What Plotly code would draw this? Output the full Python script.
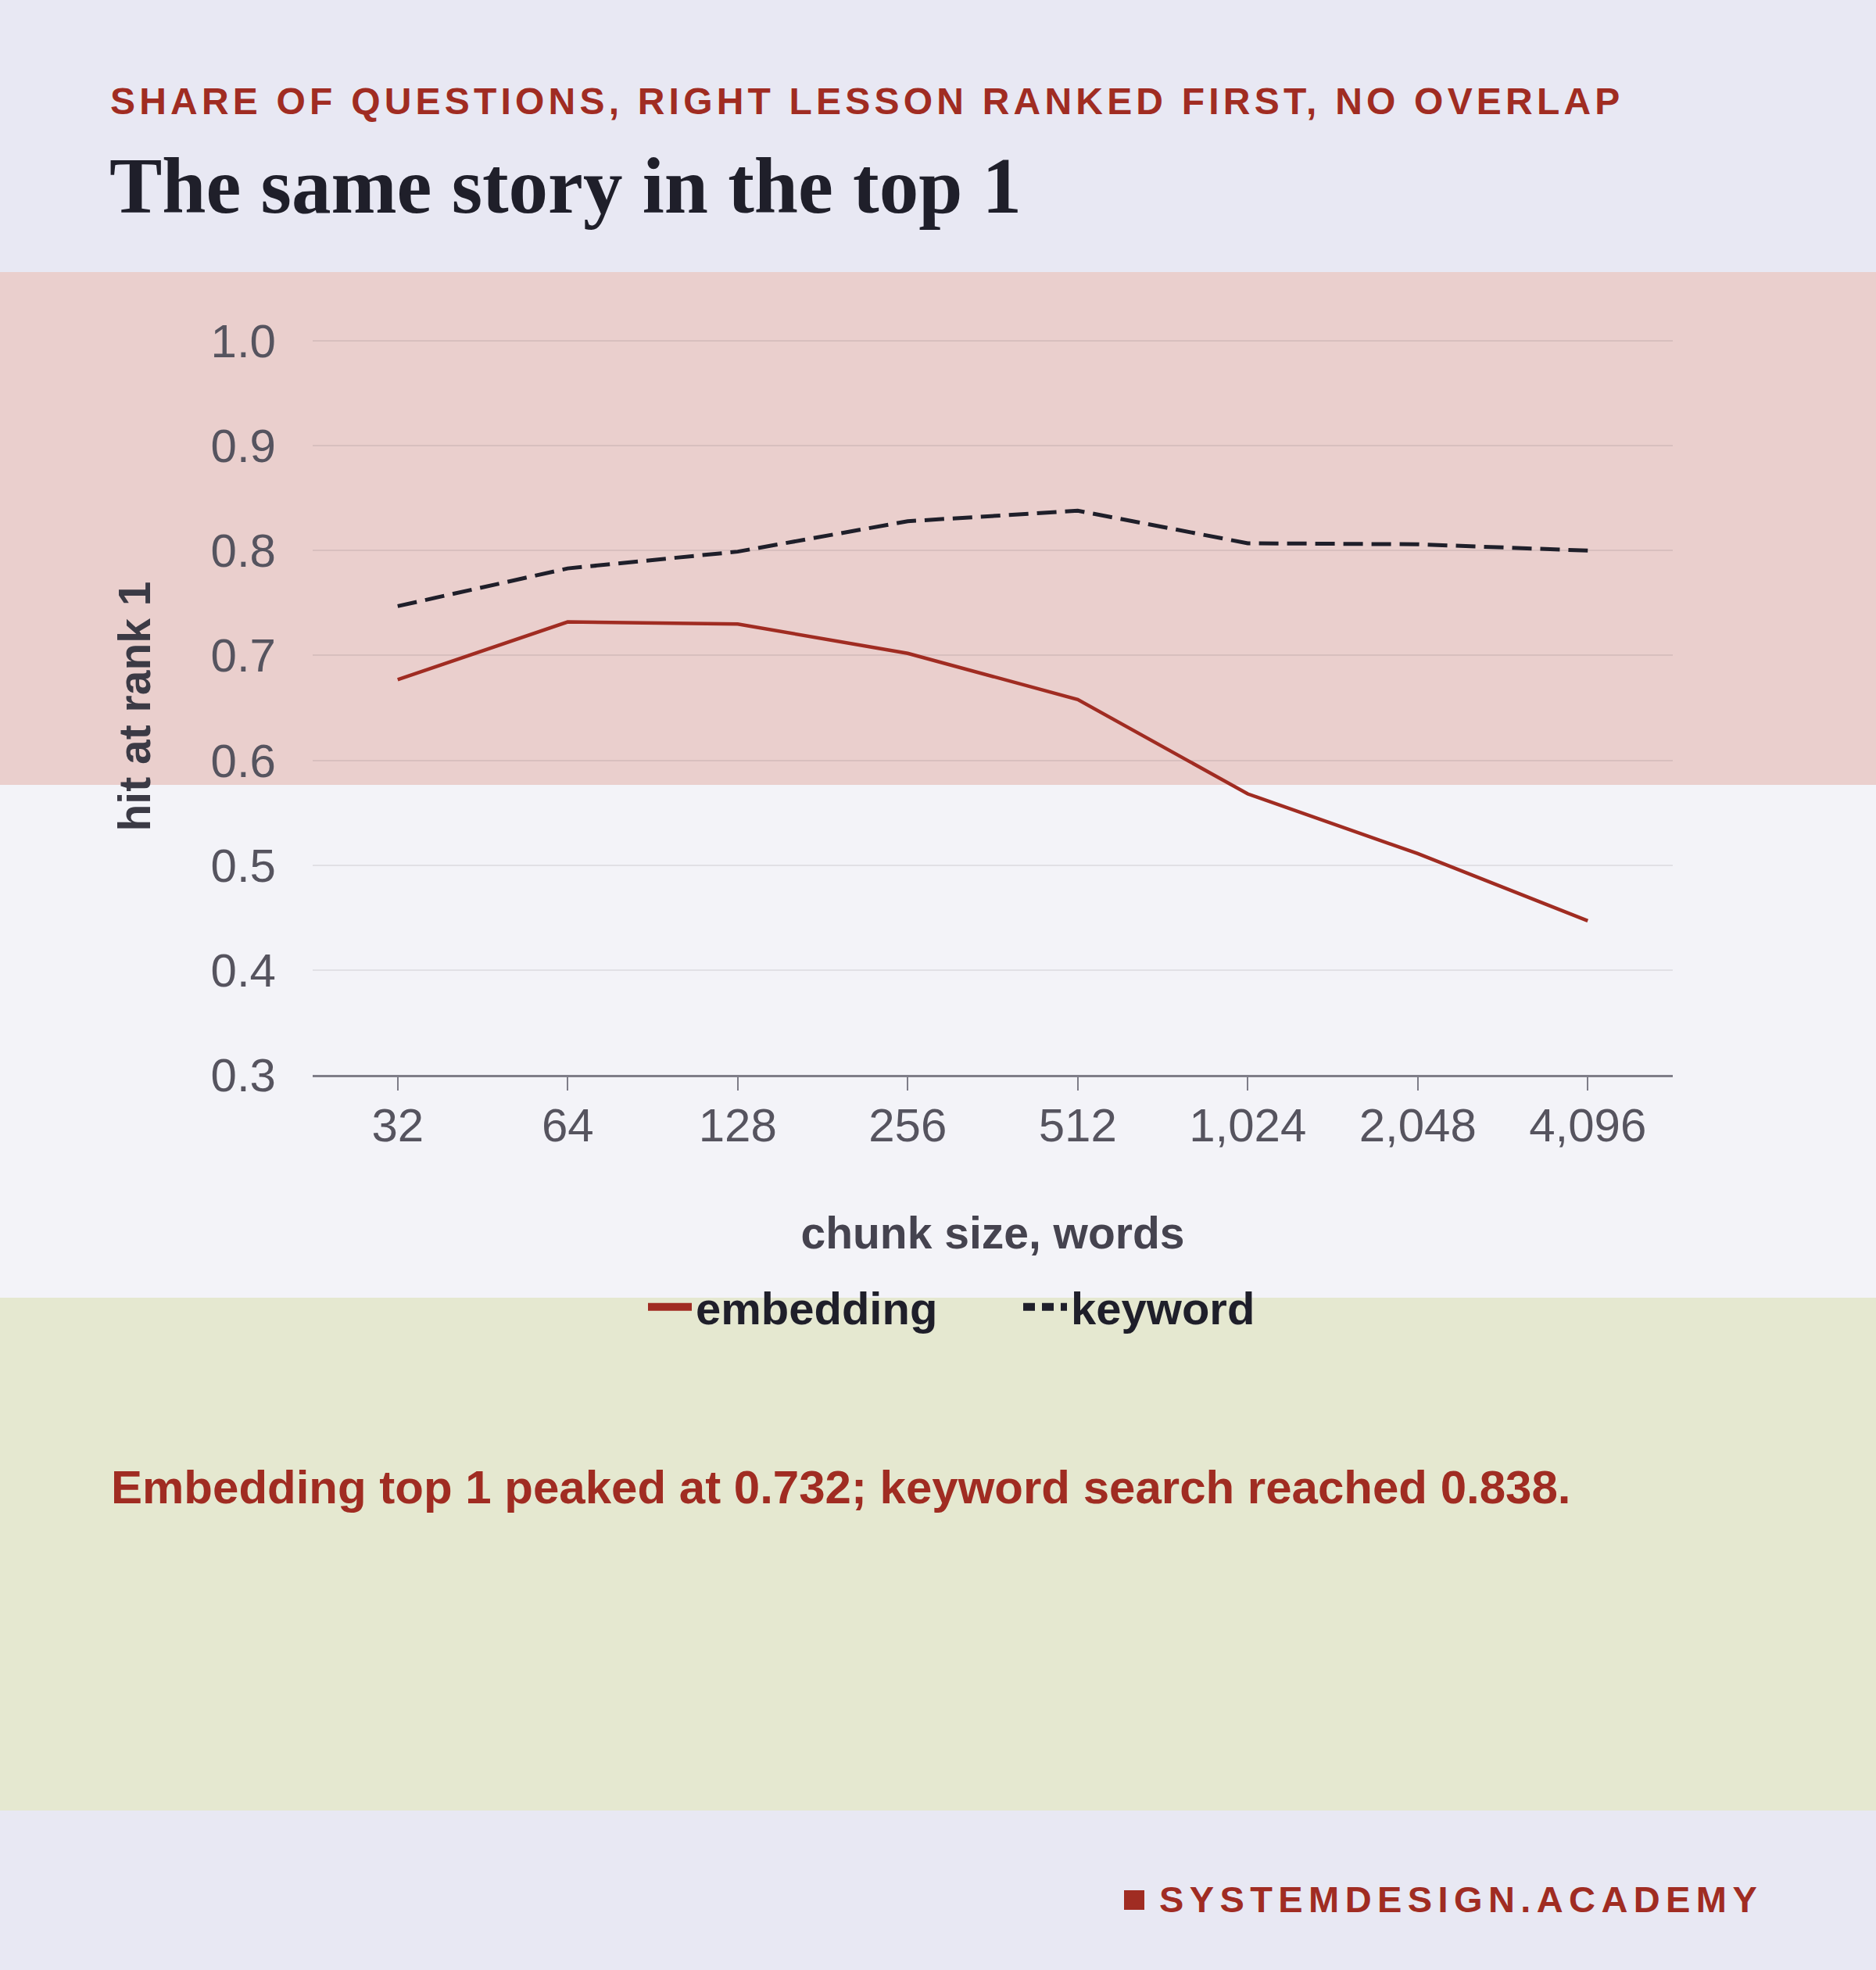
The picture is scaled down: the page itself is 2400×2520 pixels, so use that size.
import plotly.graph_objects as go

# hit at rank 1, no overlap
chunk_sizes = ["32", "64", "128", "256", "512", "1,024", "2,048", "4,096"]
embedding = [0.677, 0.732, 0.730, 0.702, 0.658, 0.568, 0.511, 0.447]
keyword = [0.747, 0.783, 0.799, 0.828, 0.838, 0.807, 0.806, 0.800]

RED = "#A02C22"
INK = "#1F1F2A"
GREY = "#56545F"
AXIS = "#7E7D88"
SANS = "Liberation Sans, Arial, sans-serif"
SERIF = "Liberation Serif, Times New Roman, serif"

W, H = 2400, 2520
L, R, T, B = 400, 260, 432, 1145


def px_x(px):
    return (px - L) / (W - L - R)


def px_y(py):
    return (H - B - py) / (H - T - B)


fig = go.Figure()

fig.add_trace(go.Scatter(x=chunk_sizes, y=embedding, mode="lines", name="embedding",
                         line=dict(color=RED, width=4.5), showlegend=False))
fig.add_trace(go.Scatter(x=chunk_sizes, y=keyword, mode="lines", name="keyword",
                         line=dict(color=INK, width=5, dash="25px,11px"), showlegend=False))

# legend entries only (thicker swatches)
fig.add_trace(go.Scatter(x=[None], y=[None], mode="lines", name="embedding",
                         line=dict(color=RED, width=10)))
fig.add_trace(go.Scatter(x=[None], y=[None], mode="lines", name="keyword",
                         line=dict(color=INK, width=10, dash="15px,9px")))

# background bands
bands = [(348, 1004, "#EACFCD"), (1004, 1660, "#F3F3F8"), (1660, 2316, "#E5E8D0")]
for top, bottom, col in bands:
    fig.add_shape(type="rect", xref="paper", yref="paper",
                  x0=px_x(0), x1=px_x(W), y0=px_y(bottom), y1=px_y(top),
                  fillcolor=col, line_width=0, layer="below")

# footer mark
fig.add_shape(type="rect", xref="paper", yref="paper",
              x0=px_x(1438), x1=px_x(1464), y0=px_y(2443), y1=px_y(2418),
              fillcolor=RED, line_width=0)

fig.add_annotation(xref="paper", yref="paper", x=px_x(139), y=px_y(129.5),
                   xanchor="left", yanchor="middle", align="left", showarrow=False,
                   text="SHARE OF QUESTIONS, RIGHT LESSON RANKED FIRST, NO OVERLAP",
                   font=dict(family=SANS, size=48, color=RED, weight="bold"))
fig.add_annotation(xref="paper", yref="paper", x=px_x(140), y=px_y(1902),
                   xanchor="left", yanchor="middle", align="left", showarrow=False,
                   text="Embedding top 1 peaked at 0.732; keyword search reached 0.838.",
                   font=dict(family=SANS, size=60, color=RED, weight="bold"))
fig.add_annotation(xref="paper", yref="paper", x=px_x(1481), y=px_y(2429),
                   xanchor="left", yanchor="middle", align="left", showarrow=False,
                   text="SYSTEMDESIGN.ACADEMY",
                   font=dict(family=SANS, size=47, color=RED, weight="bold"))

fig.update_layout(
    width=W, height=H,
    margin=dict(l=L, r=R, t=T, b=B),
    paper_bgcolor="#E8E8F3",
    plot_bgcolor="rgba(0,0,0,0)",
    title=dict(text="The same story in the top 1", x=140 / W, xref="container", xanchor="left",
               y=1 - 237 / H, yref="container", yanchor="middle",
               font=dict(family=SERIF, size=101, color=INK, weight="bold")),
    legend=dict(orientation="h", x=px_x(824), xanchor="left", y=px_y(1672), yanchor="middle",
                font=dict(family=SANS, size=58, color=INK, weight="bold"),
                bgcolor="rgba(0,0,0,0)", itemwidth=56, entrywidth=409),
    xaxis=dict(type="category", range=[-0.5, 7.5], showgrid=False,
               showline=True, linecolor=AXIS, linewidth=3,
               ticks="outside", ticklen=17, tickwidth=2, tickcolor=AXIS,
               ticklabelstandoff=-7,
               tickfont=dict(family=SANS, size=60, color=GREY),
               title=dict(text="chunk size, words", standoff=86,
                          font=dict(family=SANS, size=57, color="#45434F", weight="bold"))),
    yaxis=dict(range=[0.3, 1.003], tickvals=[0.3, 0.4, 0.5, 0.6, 0.7, 0.8, 0.9, 1.0],
               tickformat=".1f",
               showgrid=True, gridcolor="rgba(40,30,40,0.09)", gridwidth=2,
               zeroline=False, showline=False, ticks="", ticklabelstandoff=46,
               tickfont=dict(family=SANS, size=60, color=GREY),
               title=dict(text="hit at rank 1", standoff=58,
                          font=dict(family=SANS, size=57, color="#3B3A45", weight="bold"))),
)

page_fix = """
document.body.style.margin = '0';
document.querySelectorAll('.annotation-text').forEach(function(t){
  var s = t.textContent;
  if (s.indexOf('SHARE') === 0) { t.style.letterSpacing = '5.2px'; }
  if (s.indexOf('SYSTEM') === 0) { t.style.letterSpacing = '7.4px'; }
});
"""

fig.write_html("out.html", config={"displayModeBar": False}, post_script=page_fix)
